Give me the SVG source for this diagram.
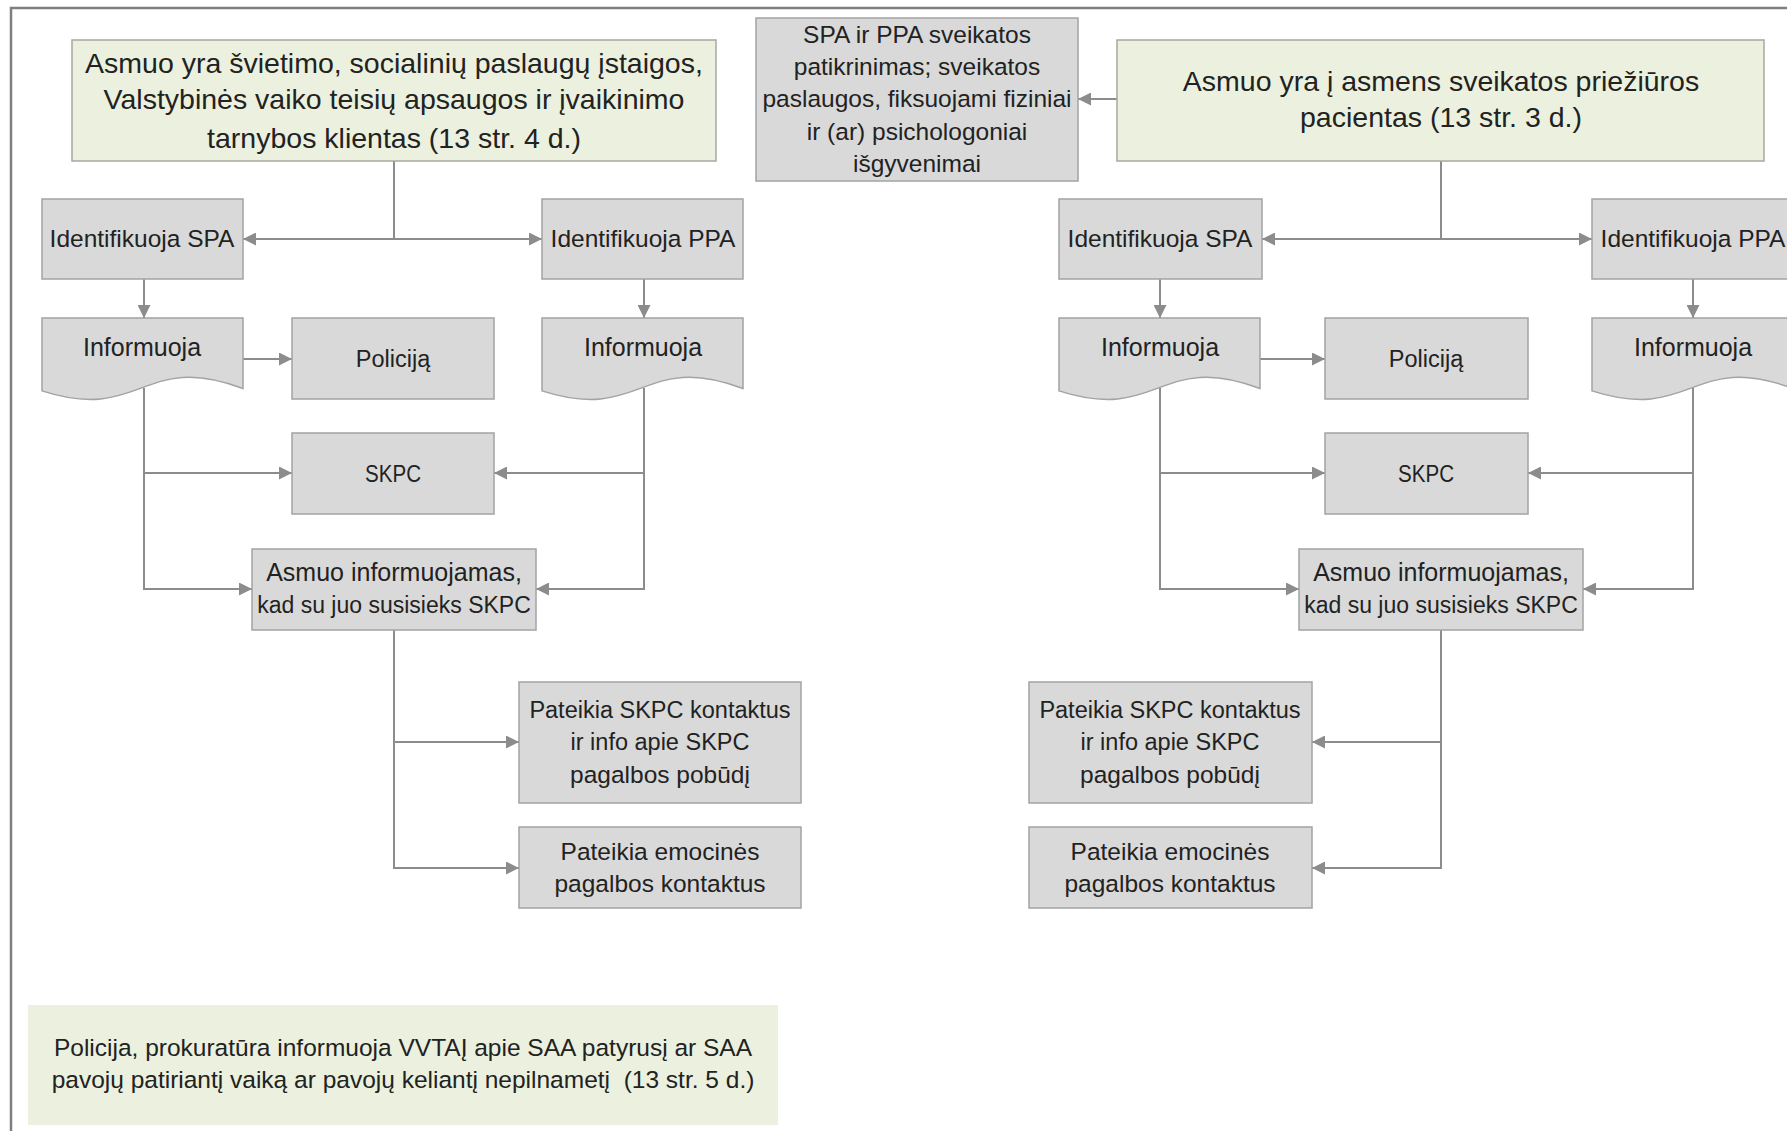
<svg xmlns="http://www.w3.org/2000/svg" width="1787" height="1131" viewBox="0 0 1787 1131">
<style>
.frame{fill:none;stroke:#7f7f7f;stroke-width:2.5}
.gbox{fill:#d9d9d9;stroke:#a3a3a3;stroke-width:1.5}
.green{fill:#ebf1de;stroke:#a8a8a0;stroke-width:1.5}
.greenb{fill:#ebf1de;stroke:none}
.t{font-family:"Liberation Sans",Arial,sans-serif;fill:#222222;text-anchor:middle;white-space:pre}
.big{font-size:28.5px}
.hs{font-size:24.5px}
.idf{font-size:24.5px}
.inf{font-size:25px}
.pol{font-size:23.5px}
.sk{font-size:24px}
.m23{font-size:23px}
.m235{font-size:23.5px}
.m245{font-size:24.5px}
.m25{font-size:25px}
.c{fill:none;stroke:#8c8c8c;stroke-width:2}
.ca{fill:none;stroke:#8c8c8c;stroke-width:2;marker-end:url(#ah)}
</style>
<defs>
<marker id="ah" viewBox="0 0 12 12" refX="12" refY="6" markerWidth="13" markerHeight="13" markerUnits="userSpaceOnUse" orient="auto">
<path d="M0,0 L12,6 L0,12 Z" fill="#8c8c8c"/>
</marker>
<path id="doc" d="M0,0 H201 V70.5 C100.5,32.4 100.5,105.3 0,72.9 Z"/>
</defs>
<rect x="0" y="0" width="1787" height="1131" fill="#ffffff"/>
<rect class="frame" x="11" y="8" width="1800" height="1200"/>

<g id="connectors">
<path class="ca" d="M1117,99 H1078"/>
<path class="c" d="M394,161 V239"/>
<path class="ca" d="M394,239 H243"/>
<path class="ca" d="M394,239 H542"/>
<path class="c" d="M1441,161 V239"/>
<path class="ca" d="M1441,239 H1262"/>
<path class="ca" d="M1441,239 H1592"/>
<path class="ca" d="M144,279 V318"/>
<path class="ca" d="M644,279 V318"/>
<path class="ca" d="M1160,279 V318"/>
<path class="ca" d="M1693,279 V318"/>
<path class="ca" d="M243,359 H292"/>
<path class="ca" d="M1260,359 H1325"/>
<path class="ca" d="M144,388 V589 H252"/>
<path class="ca" d="M144,473 H292"/>
<path class="ca" d="M644,388 V589 H536"/>
<path class="ca" d="M644,473 H494"/>
<path class="ca" d="M1160,388 V589 H1299"/>
<path class="ca" d="M1160,473 H1325"/>
<path class="ca" d="M1693,388 V589 H1583"/>
<path class="ca" d="M1693,473 H1528"/>
<path class="ca" d="M394,630 V868 H519"/>
<path class="ca" d="M394,742 H519"/>
<path class="ca" d="M1441,630 V868 H1312"/>
<path class="ca" d="M1441,742 H1312"/>
</g>

<g id="n-client">
<rect class="green" x="72" y="40" width="644" height="121"/>
<text class="t big" x="394" y="73">Asmuo yra švietimo, socialinių paslaugų įstaigos,</text>
<text class="t big" x="394" y="109">Valstybinės vaiko teisių apsaugos ir įvaikinimo</text>
<text class="t big" x="394" y="148">tarnybos klientas (13 str. 4 d.)</text>
</g>
<g id="n-health">
<rect class="gbox" x="756" y="18" width="322" height="163"/>
<text class="t hs" x="917" y="43">SPA ir PPA sveikatos</text>
<text class="t hs" x="917" y="75">patikrinimas; sveikatos</text>
<text class="t hs" x="917" y="107">paslaugos, fiksuojami fiziniai</text>
<text class="t hs" x="917" y="140">ir (ar) psichologoniai</text>
<text class="t hs" x="917" y="172">išgyvenimai</text>
</g>
<g id="n-patient">
<rect class="green" x="1117" y="40" width="647" height="121"/>
<text class="t big" x="1441" y="91">Asmuo yra į asmens sveikatos priežiūros</text>
<text class="t big" x="1441" y="127">pacientas (13 str. 3 d.)</text>
</g>

<g id="n-l-spa">
<rect class="gbox" x="42" y="199" width="201" height="80"/>
<text class="t idf" x="142" y="247">Identifikuoja SPA</text>
</g>
<g id="n-l-ppa">
<rect class="gbox" x="542" y="199" width="201" height="80"/>
<text class="t idf" x="643" y="247">Identifikuoja PPA</text>
</g>
<g id="n-l-inf1">
<use href="#doc" x="42" y="318" class="gbox"/>
<text class="t inf" x="142" y="356">Informuoja</text>
</g>
<g id="n-l-pol">
<rect class="gbox" x="292" y="318" width="202" height="81"/>
<text class="t pol" x="393" y="367">Policiją</text>
</g>
<g id="n-l-inf2">
<use href="#doc" x="542" y="318" class="gbox"/>
<text class="t inf" x="643" y="356">Informuoja</text>
</g>
<g id="n-l-skpc">
<rect class="gbox" x="292" y="433" width="202" height="81"/>
<text class="t sk" x="393" y="482" textLength="56" lengthAdjust="spacingAndGlyphs">SKPC</text>
</g>
<g id="n-l-asmuo">
<rect class="gbox" x="252" y="549" width="284" height="81"/>
<text class="t m25" x="394" y="581">Asmuo informuojamas,</text>
<text class="t m23" x="394" y="613">kad su juo susisieks SKPC</text>
</g>
<g id="n-l-kont">
<rect class="gbox" x="519" y="682" width="282" height="121"/>
<text class="t m235" x="660" y="718">Pateikia SKPC kontaktus</text>
<text class="t m235" x="660" y="750">ir info apie SKPC</text>
<text class="t m245" x="660" y="783">pagalbos pobūdį</text>
</g>
<g id="n-l-emo">
<rect class="gbox" x="519" y="827" width="282" height="81"/>
<text class="t m245" x="660" y="860">Pateikia emocinės</text>
<text class="t m245" x="660" y="892">pagalbos kontaktus</text>
</g>

<g id="n-r-spa">
<rect class="gbox" x="1059" y="199" width="203" height="80"/>
<text class="t idf" x="1160" y="247">Identifikuoja SPA</text>
</g>
<g id="n-r-ppa">
<rect class="gbox" x="1592" y="199" width="203" height="80"/>
<text class="t idf" x="1693" y="247">Identifikuoja PPA</text>
</g>
<g id="n-r-inf1">
<use href="#doc" x="1059" y="318" class="gbox"/>
<text class="t inf" x="1160" y="356">Informuoja</text>
</g>
<g id="n-r-pol">
<rect class="gbox" x="1325" y="318" width="203" height="81"/>
<text class="t pol" x="1426" y="367">Policiją</text>
</g>
<g id="n-r-inf2">
<use href="#doc" x="1592" y="318" class="gbox"/>
<text class="t inf" x="1693" y="356">Informuoja</text>
</g>
<g id="n-r-skpc">
<rect class="gbox" x="1325" y="433" width="203" height="81"/>
<text class="t sk" x="1426" y="482" textLength="56" lengthAdjust="spacingAndGlyphs">SKPC</text>
</g>
<g id="n-r-asmuo">
<rect class="gbox" x="1299" y="549" width="284" height="81"/>
<text class="t m25" x="1441" y="581">Asmuo informuojamas,</text>
<text class="t m23" x="1441" y="613">kad su juo susisieks SKPC</text>
</g>
<g id="n-r-kont">
<rect class="gbox" x="1029" y="682" width="283" height="121"/>
<text class="t m235" x="1170" y="718">Pateikia SKPC kontaktus</text>
<text class="t m235" x="1170" y="750">ir info apie SKPC</text>
<text class="t m245" x="1170" y="783">pagalbos pobūdį</text>
</g>
<g id="n-r-emo">
<rect class="gbox" x="1029" y="827" width="283" height="81"/>
<text class="t m245" x="1170" y="860">Pateikia emocinės</text>
<text class="t m245" x="1170" y="892">pagalbos kontaktus</text>
</g>

<g id="n-police-note">
<rect class="greenb" x="28" y="1005" width="750" height="120"/>
<text class="t m245" x="403" y="1056">Policija, prokuratūra informuoja VVTAĮ apie SAA patyrusį ar SAA</text>
<text class="t m245" x="403" y="1088">pavojų patiriantį vaiką ar pavojų keliantį nepilnametį  (13 str. 5 d.)</text>
</g>
</svg>
